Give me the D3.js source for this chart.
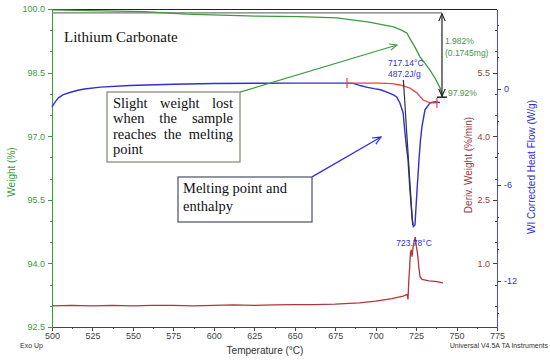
<!DOCTYPE html>
<html>
<head>
<meta charset="utf-8">
<script src="https://cdn.jsdelivr.net/npm/d3@7"></script>
<style>
  body { margin: 0; background: #fff; }
  svg { display: block; font-family: "Liberation Sans", Arial, sans-serif; }
  .ax path, .ax line { shape-rendering: crispEdges; }
</style>
</head>
<body>
<svg id="chart"></svg>
<script>
// temperature ticks
const tempTicks = [500, 525, 550, 575, 600, 625, 650, 675, 700, 725, 750, 775];
const weightTicks = [92.5, 94.0, 95.5, 97.0, 98.5, 100.0];
const derivTicks = [1.0, 2.5, 4.0, 5.5];
const flowTicks = [-12, -6, 0];

// weight (%) vs temperature
const weightT = [500, 523, 557, 583, 627, 653, 676, 696, 711, 716, 719.4, 721.2, 724.3, 727.4, 730.5, 733.6, 737, 739.8, 741.5];
const weightV = [99.98, 99.96, 99.94, 99.88, 99.83, 99.82, 99.79, 99.69, 99.58, 99.5, 99.43, 99.3, 99.1, 98.87, 98.72, 98.56, 98.35, 98.14, 97.92];

// heat flow (W/g) vs temperature
const flowT = [500, 502, 504, 507, 511, 516, 520, 530, 548, 575, 600, 650, 681, 686, 691, 695, 699, 703, 707, 711, 713, 715, 717, 718, 719, 720, 721.2, 722.5, 723.3, 724.3, 725.6, 726.8, 727.7, 728.7, 730.5, 733.6, 736.7, 739.8];
const flowV = [-1.12, -0.8, -0.55, -0.35, -0.22, -0.08, 0.0, 0.12, 0.22, 0.3, 0.34, 0.37, 0.37, 0.35, 0.2, 0.1, 0.02, -0.05, -0.19, -0.37, -0.5, -0.87, -1.5, -2.6, -3.6, -4.4, -6.3, -8.0, -8.6, -8.5, -6.3, -4.4, -3.2, -2.3, -1.3, -0.87, -0.8, -0.85];

// deriv. weight (%/min) vs temperature
const derivT = [500, 512, 525, 537, 550, 562, 575, 587, 600, 612, 625, 637, 650, 662, 675, 690, 700, 710, 717, 719.5, 720, 720.5, 721, 721.5, 722, 722.5, 723.2, 724, 724.5, 725, 726, 726.7, 727.5, 728.7, 733, 738, 741.6];
const derivV = [0.0, 0.01, 0.0, 0.01, 0.0, 0.01, 0.01, 0.0, 0.01, 0.02, 0.01, 0.02, 0.03, 0.03, 0.04, 0.07, 0.11, 0.17, 0.23, 0.27, 0.15, 0.6, 0.9, 1.25, 1.32, 1.16, 1.4, 1.55, 1.62, 1.45, 1.2, 0.9, 0.68, 0.62, 0.59, 0.57, 0.54];

// integration baseline on the heat flow curve
const baseT = [682.3, 692, 702.7, 710, 715.1, 718, 721.2, 723.5, 725.6, 729.3, 733.6, 737.9];
const baseV = [0.37, 0.37, 0.37, 0.33, 0.25, 0.16, 0.06, -0.1, -0.25, -0.69, -0.87, -0.87];

const onsetT = 717.14;
const peakT = 723.78;
const stepTop = 99.91;
const stepEnd = 97.92;
const stepT = 741;

const W = 550, H = 361;
const svg = d3.select('#chart').attr('width', W).attr('height', H);

const x = d3.scaleLinear().domain([500, 775]).range([52, 497]);
const yW = d3.scaleLinear().domain([92.5, 100]).range([327, 9]);
const yD = d3.scaleLinear().domain([-0.5, 7.0]).range([327, 9]);
const yH = d3.scaleLinear().domain([-14.875, 5]).range([327, 9]);

const green = '#3d9a3d', blue = '#2f2fd6', red = '#b3363c', red2 = '#e8434a';

//
// axes
//
svg.append('line').attr('x1', 52).attr('x2', 497).attr('y1', 9.5).attr('y2', 9.5)
  .attr('stroke', '#222').attr('stroke-width', 1.2);
svg.append('line').attr('x1', 52).attr('x2', x(stepT)).attr('y1', yW(stepTop)).attr('y2', yW(stepTop))
  .attr('stroke', '#777').attr('stroke-width', 1.2);

const xAxis = svg.append('g').attr('class', 'ax').attr('transform', 'translate(0,327)')
  .call(d3.axisBottom(x).tickValues(tempTicks).tickSize(4).tickSizeOuter(0));
xAxis.select('.domain').attr('stroke', '#444');
xAxis.selectAll('line').attr('stroke', '#444');
xAxis.selectAll('text').attr('fill', '#444').attr('font-size', 9).attr('dy', '0.6em');
svg.append('g').attr('class', 'ax').attr('transform', 'translate(0,327)')
  .call(d3.axisBottom(x).tickValues(d3.range(512.5, 775, 25)).tickSize(2).tickFormat(''))
  .call(g => g.select('.domain').remove())
  .selectAll('line').attr('stroke', '#444');

const wAxis = svg.append('g').attr('class', 'ax').attr('transform', 'translate(52,0)')
  .call(d3.axisLeft(yW).tickValues(weightTicks).tickFormat(d3.format('.1f')).tickSize(4).tickSizeOuter(0));
wAxis.select('.domain').attr('stroke', green).attr('stroke-width', 1.5);
wAxis.selectAll('line').attr('stroke', green);
wAxis.selectAll('text').attr('fill', green).attr('font-size', 9);
svg.append('g').attr('class', 'ax').attr('transform', 'translate(52,0)')
  .call(d3.axisLeft(yW).tickValues(d3.range(93, 100, 0.5).filter(v => Math.abs((v - 92.5) % 1.5) > 0.01)).tickSize(2).tickFormat(''))
  .call(g => g.select('.domain').remove())
  .selectAll('line').attr('stroke', green);

const dAxis = svg.append('g').attr('class', 'ax').attr('transform', 'translate(497,0)')
  .call(d3.axisLeft(yD).tickValues(derivTicks).tickFormat(d3.format('.1f')).tickSize(4).tickSizeOuter(0));
dAxis.select('.domain').remove();
dAxis.selectAll('line').attr('stroke', '#6a3030');
dAxis.selectAll('text').attr('fill', '#9a3a3a').attr('font-size', 9);
svg.append('g').attr('class', 'ax').attr('transform', 'translate(497,0)')
  .call(d3.axisLeft(yD).tickValues(d3.range(-0.5, 7.0, 0.5).filter(v => Math.abs((v - 1) % 1.5) > 0.01)).tickSize(2).tickFormat(''))
  .call(g => g.select('.domain').remove())
  .selectAll('line').attr('stroke', '#444');

const hAxis = svg.append('g').attr('class', 'ax').attr('transform', 'translate(497,0)')
  .call(d3.axisRight(yH).tickValues(flowTicks).tickFormat(d => String(d)).tickSize(4).tickSizeOuter(0));
hAxis.select('.domain').attr('stroke', '#4a4ae6').attr('stroke-width', 1.5);
hAxis.selectAll('line').attr('stroke', blue);
hAxis.selectAll('text').attr('fill', blue).attr('font-size', 9);
svg.append('g').attr('class', 'ax').attr('transform', 'translate(497,0)')
  .call(d3.axisRight(yH).tickValues([-14, -10, -8, -4, -2, 2, 4]).tickSize(2).tickFormat(''))
  .call(g => g.select('.domain').remove())
  .selectAll('line').attr('stroke', blue);

//
// curves
//
const lineOf = (xs, ys, sy) => d3.line().x((d, i) => x(xs[i])).y((d, i) => sy(ys[i]))(xs);

svg.append('path').attr('d', lineOf(weightT, weightV, yW))
  .attr('fill', 'none').attr('stroke', green).attr('stroke-width', 1.3);
svg.append('path').attr('d', lineOf(flowT, flowV, yH))
  .attr('fill', 'none').attr('stroke', blue).attr('stroke-width', 1.4);
svg.append('path').attr('d', lineOf(derivT, derivV, yD))
  .attr('fill', 'none').attr('stroke', red).attr('stroke-width', 1.3);
svg.append('path').attr('d', lineOf(baseT, baseV, yH))
  .attr('fill', 'none').attr('stroke', red2).attr('stroke-width', 1.3);

// integration limits
[baseT[0], baseT[baseT.length - 1]].forEach(t => {
  const v = baseV[baseT.indexOf(t)];
  svg.append('line').attr('x1', x(t)).attr('x2', x(t))
    .attr('y1', yH(v) - 5).attr('y2', yH(v) + 5)
    .attr('stroke', red2).attr('stroke-width', 1.2);
});
svg.append('line')
  .attr('x1', x(onsetT)).attr('y1', yH(0.37) - 3)
  .attr('x2', x(peakT) - 1.5).attr('y2', yH(-8.5))
  .attr('stroke', '#333').attr('stroke-width', 1.2);

//
// weight step
//
const defs = svg.append('defs');
[['ahGreen', green], ['ahBlue', blue], ['ahBlack', '#222']].forEach(([id, c]) => {
  defs.append('marker').attr('id', id).attr('viewBox', '0 0 10 10')
    .attr('refX', 9).attr('refY', 5).attr('markerWidth', 7).attr('markerHeight', 7)
    .attr('orient', 'auto-start-reverse')
    .append('path').attr('d', 'M0,1 L9,5 L0,9').attr('fill', 'none').attr('stroke', c).attr('stroke-width', 1.3);
});
svg.append('line').attr('x1', x(stepT)).attr('x2', x(stepT))
  .attr('y1', yW(stepTop) + 1).attr('y2', yW(stepEnd) - 1)
  .attr('stroke', '#222').attr('stroke-width', 1.2)
  .attr('marker-start', 'url(#ahBlack)').attr('marker-end', 'url(#ahBlack)');
svg.append('line').attr('x1', x(stepT) - 5).attr('x2', x(stepT) + 5)
  .attr('y1', yW(stepEnd)).attr('y2', yW(stepEnd)).attr('stroke', '#222').attr('stroke-width', 1.5);

const small = (t, px, py, c) => svg.append('text').attr('x', px).attr('y', py)
  .attr('font-size', 8.5).attr('fill', c).text(t);
small('1.982%', x(stepT) + 3, 44, green);
small('(0.1745mg)', x(stepT) + 3, 56, green);
small('97.92%', x(stepT) + 6, yW(stepEnd) - 1, green);
small('717.14°C', 388, 66, blue);
small('487.2J/g', 388, 77, blue);
svg.append('text').attr('x', x(peakT)).attr('y', yH(-9.8)).attr('text-anchor', 'middle')
  .attr('font-size', 8.5).attr('fill', blue).text(peakT.toFixed(2) + '°C');

//
// callouts
//
const serif = '"Liberation Serif", "DejaVu Serif", serif';
svg.append('text').attr('x', 64).attr('y', 42).attr('font-family', serif)
  .attr('font-size', 15).attr('fill', '#111').text('Lithium Carbonate');

// arrows, in data units
svg.append('line')
  .attr('x1', x(616.2)).attr('y1', yW(98.04)).attr('x2', x(713.2)).attr('y2', yW(99.15))
  .attr('stroke', green).attr('stroke-width', 1.2).attr('marker-end', 'url(#ahGreen)');
svg.append('line')
  .attr('x1', x(660.7)).attr('y1', yW(96.04)).attr('x2', x(703.3)).attr('y2', yW(96.98))
  .attr('stroke', blue).attr('stroke-width', 1.3).attr('marker-end', 'url(#ahBlue)');

svg.append('rect').attr('x', 107).attr('y', 92).attr('width', 133).attr('height', 70)
  .attr('fill', '#fff').attr('stroke', '#7c8a70').attr('stroke-width', 1.2);
// justified lines: spread words evenly between left and right edge
const box1 = [['Slight', 'weight', 'lost'], ['when', 'the', 'sample'], ['reaches', 'the', 'melting'], ['point']];
box1.forEach((words, i) => {
  const y0 = 108 + i * 15.4;
  const nodes = words.map(w => svg.append('text').attr('y', y0).attr('font-family', serif)
    .attr('font-size', 14.5).attr('fill', '#111').text(w));
  if (words.length === 1) { nodes[0].attr('x', 113); return; }
  const widths = nodes.map(n => n.node().getComputedTextLength());
  const gap = (233 - 113 - d3.sum(widths)) / (words.length - 1);
  let cx = 113;
  nodes.forEach((n, j) => { n.attr('x', cx); cx += widths[j] + gap; });
});

svg.append('rect').attr('x', 178).attr('y', 177).attr('width', 134).attr('height', 45)
  .attr('fill', '#fff').attr('stroke', '#4a5060').attr('stroke-width', 1.2);
svg.append('text').attr('x', 183).attr('y', 193).attr('font-family', serif)
  .attr('font-size', 14.5).attr('fill', '#111').text('Melting point and');
svg.append('text').attr('x', 183).attr('y', 211).attr('font-family', serif)
  .attr('font-size', 14.5).attr('fill', '#111').text('enthalpy');

//
// titles
//
svg.append('text').attr('transform', 'translate(15,172) rotate(-90)').attr('text-anchor', 'middle')
  .attr('font-size', 10).attr('fill', green).text('Weight (%)');
svg.append('text').attr('transform', 'translate(472,165) rotate(-90)').attr('text-anchor', 'middle')
  .attr('font-size', 10).attr('fill', '#9a3a3a').text('Deriv. Weight (%/min)');
svg.append('text').attr('transform', 'translate(535,167) rotate(-90)').attr('text-anchor', 'middle')
  .attr('font-size', 10).attr('fill', blue).text('WI Corrected Heat Flow (W/g)');
svg.append('text').attr('x', 265).attr('y', 354).attr('text-anchor', 'middle')
  .attr('font-size', 10).attr('fill', '#333').text('Temperature (°C)');
svg.append('text').attr('x', 20).attr('y', 348).attr('font-size', 7).attr('fill', '#333').text('Exo Up');
svg.append('text').attr('x', 548).attr('y', 348).attr('text-anchor', 'end')
  .attr('font-size', 7).attr('fill', '#333').text('Universal V4.5A TA Instruments');
</script>
</body>
</html>
